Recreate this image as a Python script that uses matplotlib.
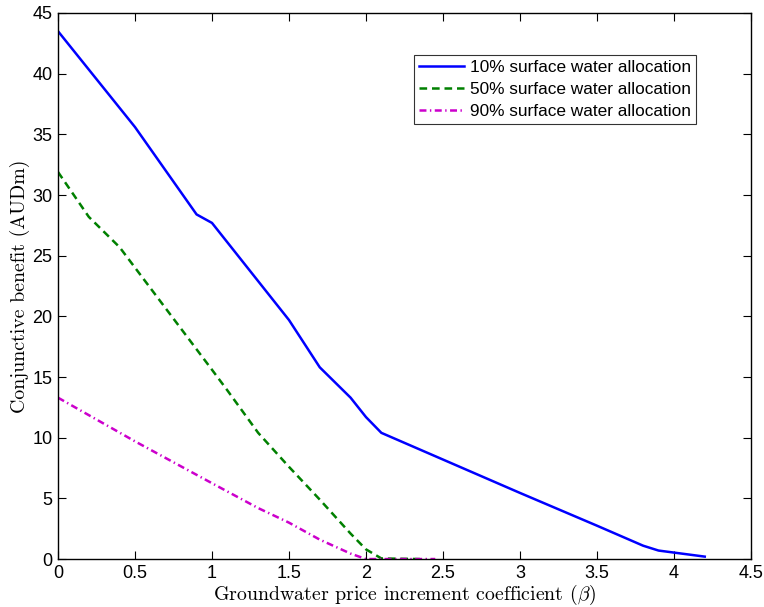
import matplotlib
matplotlib.use('Agg')
import matplotlib.pyplot as plt

# values
x_10 = [0.0, 0.5, 0.9, 1.0, 1.5, 1.7, 1.9, 2.0, 2.1, 2.5, 3.0, 3.5, 3.8, 3.9, 4.2]
y_10 = [43.5, 35.6, 28.4, 27.7, 19.7, 15.8, 13.3, 11.7, 10.4, 8.2, 5.45, 2.75, 1.1, 0.7, 0.2]

x_50 = [0.0, 0.2, 0.4, 1.0, 1.1, 1.3, 1.5, 1.7, 1.9, 2.0, 2.1, 2.35]
y_50 = [31.9, 28.2, 25.7, 15.6, 13.9, 10.4, 7.6, 4.9, 2.1, 0.8, 0.05, 0.0]

x_90 = [0.0, 0.5, 1.0, 1.3, 1.5, 1.7, 1.9, 2.0, 2.45]
y_90 = [13.3, 9.7, 6.25, 4.2, 3.0, 1.6, 0.45, 0.0, 0.0]

labels = ['10% surface water allocation',
          '50% surface water allocation',
          '90% surface water allocation']

plt.rcParams['font.family'] = ['Liberation Sans', 'DejaVu Sans']
plt.rcParams['mathtext.fontset'] = 'cm'
plt.rcParams['lines.scale_dashes'] = False

fig = plt.figure(figsize=(7.64, 6.07), dpi=100)
ax = fig.add_axes([0.0759, 0.079, 0.907, 0.8996])

ax.plot(x_10, y_10, color='#0000ff', lw=1.8, label=labels[0])
ax.plot(x_50, y_50, color='#008000', lw=1.8, dashes=(5.5, 3.5), label=labels[1])
ax.plot(x_90, y_90, color='#cc00cc', lw=1.8, dashes=(5, 2.5, 1, 2.5), label=labels[2])

ax.set_xlim(0, 4.5)
ax.set_ylim(0, 45)
ax.set_xticks([0, 0.5, 1, 1.5, 2, 2.5, 3, 3.5, 4, 4.5])
ax.set_xticklabels(['0', '0.5', '1', '1.5', '2', '2.5', '3', '3.5', '4', '4.5'])
ax.set_yticks(range(0, 46, 5))
ax.tick_params(direction='in', top=True, right=True, length=6, width=0.8,
               labelsize=13, pad=4)
for s in ax.spines.values():
    s.set_linewidth(1.0)

ax.set_xlabel(r'Groundwater price increment coefficient $(\beta)$',
              fontfamily='cmr10', fontsize=14.3, labelpad=1)
ax.set_ylabel('Conjunctive benefit (AUDm)', fontfamily='cmr10', fontsize=14.3,
              labelpad=2)

leg = ax.legend(loc='upper right', bbox_to_anchor=(0.9206, 0.923), fontsize=12.4,
                frameon=True, fancybox=False, edgecolor='black',
                handlelength=2.6, handletextpad=0.35, borderpad=0.3,
                labelspacing=0.4, borderaxespad=0)
leg.get_frame().set_linewidth(0.8)

fig.savefig('out.png', dpi=100)
